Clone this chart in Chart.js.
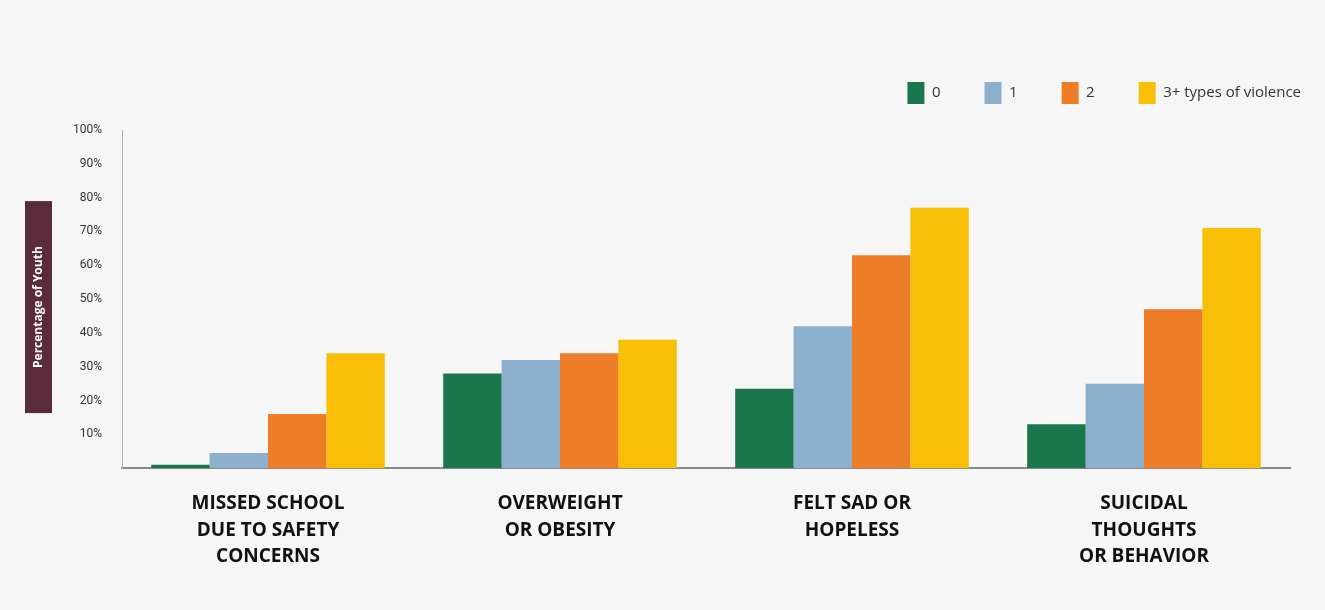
<!DOCTYPE html>
<html>
<head>
<meta charset="utf-8">
<script src="https://cdn.jsdelivr.net/npm/chart.js@4.4.0/dist/chart.umd.min.js"></script>
<style>
    html, body { margin: 0; padding: 0; background: #f6f6f6; }
    #wrap { width: 1325px; height: 610px; position: relative; }
</style>
</head>
<body>
<div id="wrap"><canvas id="violenceChart"></canvas></div>
<script>
var categories = [
    ['MISSED SCHOOL', 'DUE TO SAFETY', 'CONCERNS'],
    ['OVERWEIGHT', 'OR OBESITY'],
    ['FELT SAD OR', 'HOPELESS'],
    ['SUICIDAL', 'THOUGHTS', 'OR BEHAVIOR']
];
var seriesNames = ['0', '1', '2', '3+ types of violence'];
var zeroTypes = [1, 28, 23.5, 13];
var oneType = [4.5, 32, 42, 25];
var twoTypes = [16, 34, 63, 47];
var threePlusTypes = [34, 38, 77, 71];
var yTicks = [10, 20, 30, 40, 50, 60, 70, 80, 90, 100];
var axisTitle = 'Percentage of Youth';

var colors = ['#1a774b', '#8eb0cf', '#ee7d27', '#f8bf06'];

window.onload = function () {
    var ctx = document.getElementById('violenceChart').getContext('2d');

    // maroon box with the rotated y axis title
    var titleBox = {
        id: 'titleBox',
        beforeInit: function (chart) {
            // fixed legend height so the plot starts lower
            var fit = chart.legend.fit;
            chart.legend.fit = function () {
                fit.call(this);
                this.height = 92;
            };
        },
        afterLayout: function (chart) {
            // legend sits further right than the plot edge
            chart.legend.left += 55;
            chart.legend.right += 55;
        },
        beforeDraw: function (chart) {
            var c = chart.ctx;
            c.save();
            c.fillStyle = '#f6f6f6';
            c.fillRect(0, 0, chart.width, chart.height);
            c.restore();
        },
        afterDraw: function (chart) {
            var c = chart.ctx;
            var area = chart.chartArea;
            var mid = (area.top + area.bottom) / 2 + 8;
            c.save();
            c.fillStyle = '#5b2b3b';
            c.fillRect(25, mid - 106, 27, 212);
            c.translate(39, mid);
            c.rotate(-Math.PI / 2);
            c.fillStyle = '#ffffff';
            c.font = 'bold 12px "Open Sans"';
            c.textAlign = 'center';
            c.textBaseline = 'middle';
            c.fillText(axisTitle, 0, 0);
            c.restore();
        }
    };

    var chart = new Chart(ctx, {
        type: 'bar',
        data: {
            labels: categories,
            datasets: [
                { label: seriesNames[0], data: zeroTypes, backgroundColor: colors[0] },
                { label: seriesNames[1], data: oneType, backgroundColor: colors[1] },
                { label: seriesNames[2], data: twoTypes, backgroundColor: colors[2] },
                { label: seriesNames[3], data: threePlusTypes, backgroundColor: colors[3] }
            ]
        },
        options: {
            responsive: true,
            maintainAspectRatio: false,
            animation: false,
            layout: {
                padding: { top: 38, right: 35, bottom: 18, left: 53 }
            },
            datasets: {
                bar: { categoryPercentage: 0.8, barPercentage: 1.0 }
            },
            plugins: {
                legend: {
                    position: 'top',
                    align: 'end',
                    labels: {
                        boxWidth: 17,
                        boxHeight: 22,
                        padding: 44,
                        color: '#333',
                        font: { family: 'Open Sans', size: 15 }
                    }
                },
                tooltip: { enabled: false }
            },
            scales: {
                x: {
                    grid: { display: false, drawTicks: false },
                    border: { color: '#8a8a8a', width: 2 },
                    ticks: {
                        color: '#111',
                        padding: 22,
                        maxRotation: 0,
                        autoSkip: false,
                        font: { family: 'Open Sans', weight: 'bold', size: 19, lineHeight: 1.4 }
                    }
                },
                y: {
                    min: 0,
                    max: 100,
                    afterBuildTicks: function (axis) {
                        axis.ticks = yTicks.map(function (v) { return { value: v }; });
                    },
                    grid: { display: false, drawTicks: false },
                    border: { color: '#b0b0b0', width: 1 },
                    ticks: {
                        color: '#333',
                        padding: 20,
                        font: { family: 'Roboto', size: 12 },
                        callback: function (v) { return v + '%'; }
                    }
                }
            }
        },
        plugins: [titleBox]
    });
};
</script>
</body>
</html>
